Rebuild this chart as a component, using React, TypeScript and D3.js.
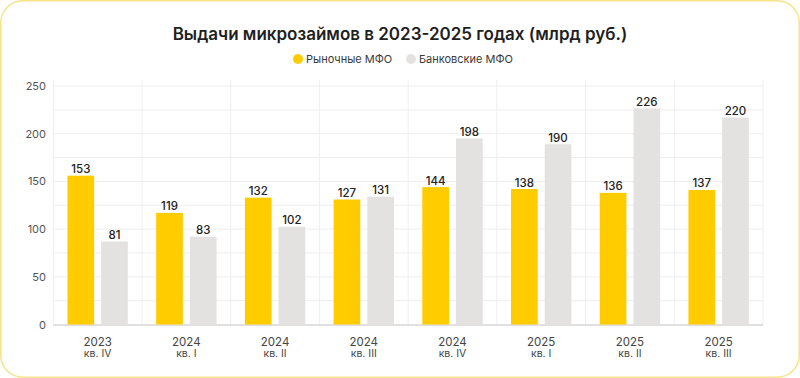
import React from "react";
import * as d3 from "d3";

const years = ["2023", "2024", "2024", "2024", "2024", "2025", "2025", "2025"];
const quarters = ["кв. IV", "кв. I", "кв. II", "кв. III", "кв. IV", "кв. I", "кв. II", "кв. III"];
// bar heights as drawn in the reference
const marketValues = [156, 117, 133, 131, 144, 142, 138, 141];
const bankValues = [87, 92, 102.5, 134, 195, 189, 226.5, 217];
// value labels printed above the bars
const marketLabels = [153, 119, 132, 127, 144, 138, 136, 137];
const bankLabels = [81, 83, 102, 131, 198, 190, 226, 220];
const yTicks = [0, 50, 100, 150, 200, 250];
const yGrid = [0, 25, 50, 75, 100, 125, 150, 175, 200, 225, 250];
const seriesNames = ["Рыночные МФО", "Банковские МФО"];

const W = 800;
const H = 378;
const YELLOW = "#FFCC00";
const GRAY = "#E3E2E0";
const FONT = "Inter, 'Noto Sans', sans-serif";

export default function App() {
  const x = d3.scaleBand<number>().domain(d3.range(years.length)).range([53.3, 763]).padding(0);
  const inner = d3
    .scaleBand<string>()
    .domain(["m", "b"])
    .range([0, x.bandwidth()])
    .paddingInner(0.208)
    .paddingOuter(0.42);
  const y = d3.scaleLinear().domain([0, 250]).range([324.5, 86]);

  const bounds = d3.range(years.length + 1).map((i) => (i < years.length ? x(i)! : x(years.length - 1)! + x.bandwidth()));

  return (
    <svg width={W} height={H} style={{ position: "absolute", left: 0, top: 0, background: "#fff" }} fontFamily={FONT}>
      <rect x={0.75} y={0.75} width={W - 1.5} height={H - 1.5} rx={22} fill="#fff" stroke="#F7E38A" strokeWidth={1.5} />
      <text x={400} y={40} textAnchor="middle" fontSize={17} fontWeight={600} fill="#1f1f1f">
        Выдачи микрозаймов в 2023-2025 годах (млрд руб.)
      </text>
      {/* legend */}
      <g fontSize={11} fill="#3a3a3a">
        <circle cx={298} cy={59} r={5} fill={YELLOW} />
        <text x={306} y={63}>{seriesNames[0]}</text>
        <circle cx={411} cy={59} r={5} fill={GRAY} />
        <text x={419} y={63}>{seriesNames[1]}</text>
      </g>
      {/* grid */}
      <g stroke="#EEEEEE" strokeWidth={1}>
        {yGrid.map((v) => (
          <line key={"h" + v} x1={53.3} x2={763} y1={y(v)} y2={y(v)} />
        ))}
        {bounds.map((bx, i) => (
          <line key={"v" + i} x1={bx} x2={bx} y1={80} y2={324.5} />
        ))}
      </g>
      <line x1={53.3} x2={763} y1={325} y2={325} stroke="#E0E0E0" strokeWidth={2} />
      {/* y ticks */}
      <g fontSize={11} fill="#555" textAnchor="end">
        {yTicks.map((v) => (
          <text key={v} x={46} y={y(v) + 4}>{v}</text>
        ))}
      </g>
      {/* bars */}
      {years.map((_, i) => {
        const x0 = x(i)!;
        const xm = x0 + inner("m")!;
        const xb = x0 + inner("b")!;
        const bw = inner.bandwidth();
        return (
          <g key={i}>
            <rect x={xm} y={y(marketValues[i])} width={bw} height={y(0) - y(marketValues[i])} fill={YELLOW} />
            <rect x={xb} y={y(bankValues[i])} width={bw} height={y(0) - y(bankValues[i])} fill={GRAY} />
            <text x={xm + bw / 2} y={y(marketValues[i]) - 2.5} textAnchor="middle" fontSize={11.5} fontWeight={500} fill="#222">
              {marketLabels[i]}
            </text>
            <text x={xb + bw / 2} y={y(bankValues[i]) - 2.5} textAnchor="middle" fontSize={11.5} fontWeight={500} fill="#222">
              {bankLabels[i]}
            </text>
            <text x={x0 + x.bandwidth() / 2} y={345.5} textAnchor="middle" fontSize={11.5} fill="#444">
              {years[i]}
            </text>
            <text x={x0 + x.bandwidth() / 2} y={357} textAnchor="middle" fontSize={10.5} fill="#444">
              {quarters[i]}
            </text>
          </g>
        );
      })}
    </svg>
  );
}
